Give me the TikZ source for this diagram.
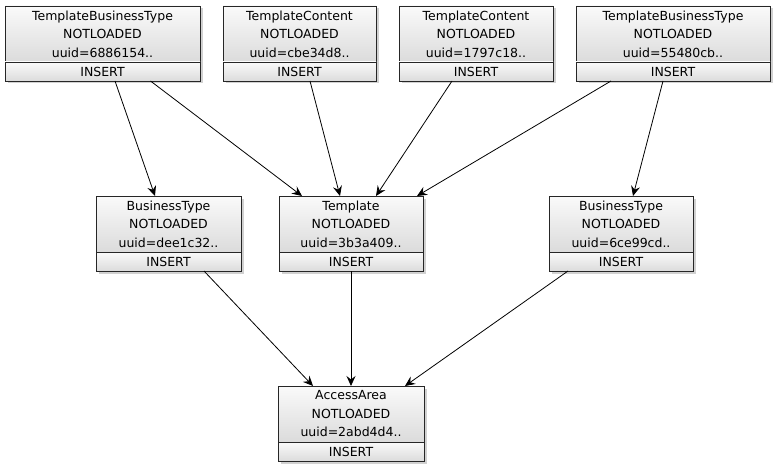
\documentclass[tikz,border=0pt]{standalone}
\usepackage{fontspec}
\setmainfont{DejaVu Sans}
\usepackage{tikz}
\usetikzlibrary{arrows.meta, positioning, shadows}
\tikzset{>=Stealth}
\tikzset{
    entity/.style={draw=black!85, line width=.8pt, top color=black!2, bottom color=black!14, inner sep=0pt, outer sep=0pt, align=center,
        drop shadow={shadow xshift=2.5pt, shadow yshift=-2.5pt, fill=black!40, opacity=.45},
        font=\fontsize{12.5}{18.5}\selectfont},
    link/.style={->, line width=.8pt, >={Stealth[length=10pt, width=9pt, inset=3.5pt]}}
}

\begin{document}
\begin{tikzpicture}[x=1pt, y=-1pt]
    \useasboundingbox (0,0) rectangle (776,468);
    \foreach \id/\x/\y/\w/\ttl/\uid in {tbta/5/6/195/TemplateBusinessType/6886154, tca/223/6/153/TemplateContent/cbe34d8, tcb/399/6/154/TemplateContent/1797c18, tbtb/576/6/194/TemplateBusinessType/55480cb, bta/96/196/145/BusinessType/dee1c32, tpl/279/196/144/Template/3b3a409, btb/549/196/144/BusinessType/6ce99cd, aa/278/386/146/AccessArea/2abd4d4}
    {
        \node[entity, minimum width=\w pt, minimum height=56pt, anchor=north west] (\id) at (\x,\y) {\ttl\\NOTLOADED\\uuid=\uid..};
        \node[entity, minimum width=\w pt, minimum height=19pt, anchor=north] (\id-op) at (\id.south) {INSERT};
    }
    
    \foreach \a/\sa/\b/\sb in {tbta/12.5/bta/-13.5, tbta/48/tpl/-49, tca/10.5/tpl/-11, tcb/-24/tpl/25, tbtb/-62/tpl/66, tbtb/-10/btb/12, bta/35.5/aa/-38, tpl/0/aa/0, btb/-53/aa/54}
    {
        \draw[link]([xshift=\sa pt]\a-op.south)--([xshift=\sb pt]\b.north);
    }
\end{tikzpicture}
\end{document}
